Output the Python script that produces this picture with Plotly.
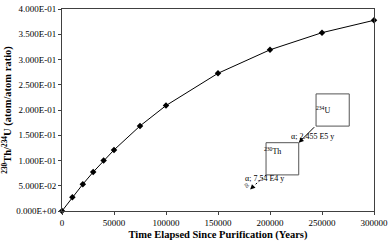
import plotly.graph_objects as go

years = [0, 10000, 20000, 30000, 40000, 50000, 75000, 100000, 150000, 200000, 250000, 300000]
ratio = [0.0, 0.0273, 0.0530, 0.0771, 0.0998, 0.1209, 0.1684, 0.2088, 0.2727, 0.3192, 0.3531, 0.3776]

y_tickvals = [0.0, 0.05, 0.10, 0.15, 0.20, 0.25, 0.30, 0.35, 0.40]
y_ticktext = ["0.000E+00", "5.000E-02", "1.000E-01", "1.500E-01", "2.000E-01",
              "2.500E-01", "3.000E-01", "3.500E-01", "4.000E-01"]
x_tickvals = [0, 50000, 100000, 150000, 200000, 250000, 300000]
x_ticktext = ["0", "50000", "100000", "150000", "200000", "250000", "300000"]

FONT = "Liberation Serif"
L, R, T, B = 62, 377, 4, 211

def px(x):
    return (x - L) / (R - L)

def py(y):
    return (B - y) / (B - T)

fig = go.Figure()
fig.add_trace(go.Scatter(
    x=years, y=ratio, mode="lines+markers",
    line=dict(color="black", width=1),
    marker=dict(symbol="diamond", size=5, color="black"),
    showlegend=False, cliponaxis=False, hoverinfo="skip",
))

axis_common = dict(
    showgrid=False, zeroline=False, showline=True, linecolor="#404040", linewidth=1,
    mirror=True, ticks="outside", ticklen=3, tickcolor="#404040",
    tickfont=dict(family=FONT, size=9, color="black"),
)
fig.update_xaxes(range=[0, 300000], tickvals=x_tickvals, ticktext=x_ticktext,
                 title=dict(text="<b>Time Elapsed Since Purification (Years)</b>",
                            font=dict(family=FONT, size=10.5, color="black"), standoff=3),
                 **axis_common)
fig.update_yaxes(range=[0, 0.4], tickvals=y_tickvals, ticktext=y_ticktext,
                 title=dict(text="<b><sup>230</sup>Th/<sup>234</sup>U (atom/atom ratio)</b>",
                            font=dict(family=FONT, size=10.5, color="black"), standoff=4),
                 **axis_common)

shapes = [
    dict(type="rect", xref="paper", yref="paper", x0=px(318.5), x1=px(352), y0=py(124), y1=py(91),
         line=dict(color="#555555", width=1)),
    dict(type="rect", xref="paper", yref="paper", x0=px(268), x1=px(301), y0=py(174), y1=py(141),
         line=dict(color="#555555", width=1)),
    dict(type="line", xref="paper", yref="paper", x0=px(268), y0=py(174), x1=px(256), y1=py(185),
         line=dict(color="black", width=1, dash="2px,2px")),
]

ann_font = dict(family=FONT, size=8, color="black")
annotations = [
    dict(text="<sup>234</sup>U", x=px(335), y=py(107), xref="paper", yref="paper", showarrow=False, font=ann_font),
    dict(text="<sup>230</sup>Th", x=px(285), y=py(157), xref="paper", yref="paper", showarrow=False, font=ann_font),
    dict(text="α; 2.455 E5 y", x=px(339), y=py(135), xref="paper", yref="paper", showarrow=False, font=ann_font),
    dict(text="α; 7.54 E4 y", x=px(288), y=py(184), xref="paper", yref="paper", showarrow=False, font=ann_font),
    dict(text="", x=px(301), y=py(141), xref="paper", yref="paper", showarrow=True,
         ax=17, ay=-17, arrowhead=2, arrowsize=1, arrowwidth=1, arrowcolor="black"),
    dict(text="", x=px(252), y=py(189), xref="paper", yref="paper", showarrow=True,
         ax=5, ay=-5, arrowhead=2, arrowsize=1, arrowwidth=1, arrowcolor="black"),
    dict(text="≈", x=px(248), y=py(193), xref="paper", yref="paper", showarrow=False,
         textangle=45, font=dict(family=FONT, size=9, color="black")),
]

fig.update_layout(
    width=392, height=243,
    margin=dict(l=L, r=392 - R, t=T, b=243 - B),
    plot_bgcolor="white", paper_bgcolor="white",
    shapes=shapes, annotations=annotations,
)

fig.write_html("out.html", config={"displayModeBar": False})

with open("out.html", "r", encoding="utf-8") as f:
    html = f.read()
html = html.replace("<head>", "<head><style>html,body{margin:0;padding:0;overflow:hidden;}</style>", 1)
with open("out.html", "w", encoding="utf-8") as f:
    f.write(html)
